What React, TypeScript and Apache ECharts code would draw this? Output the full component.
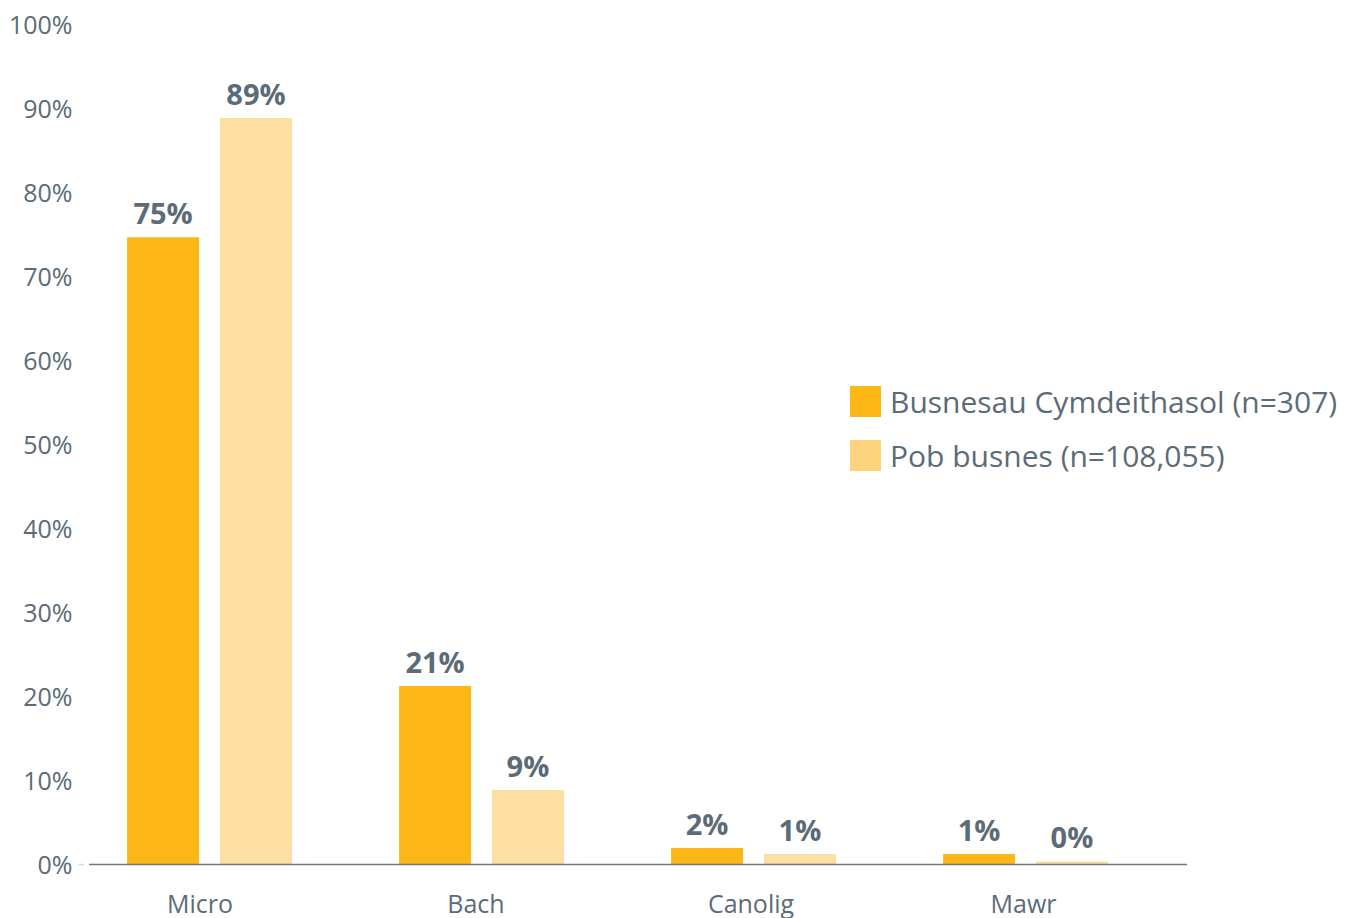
import React, { useEffect, useRef } from "react";
import * as echarts from "echarts";

const categories = ["Micro", "Bach", "Canolig", "Mawr"];
const seriesNames = ["Busnesau Cymdeithasol (n=307)", "Pob busnes (n=108,055)"];
const socialValues = [74.6, 21.2, 1.9, 1.2];
const allValues = [88.8, 8.8, 1.2, 0.3];
const yTicks = [0, 10, 20, 30, 40, 50, 60, 70, 80, 90, 100];

const FONT = "'Open Sans', 'Noto Sans', sans-serif";
const TEXT = "#5b6b77";
const C1 = "#FCB716";
const C2 = "#FDDEA3";
const C2L = "#FDD37D";

export default function App() {
  const ref = useRef<HTMLDivElement>(null);
  useEffect(() => {
    const chart = echarts.init(ref.current!, undefined, { renderer: "svg" });
    const label = {
      show: true,
      position: "top",
      distance: 10,
      fontFamily: FONT,
      fontWeight: "bold",
      fontSize: 29,
      color: TEXT,
      formatter: (p: any) => Math.round(p.value) + "%",
    };
    const shifts = [19, 11, 5, 4];
    const rich: any = {};
    shifts.forEach((s, i) => {
      rich["c" + i] = { fontFamily: FONT, fontSize: 25, color: TEXT, padding: [0, s, 0, 0] };
    });
    chart.setOption({
      animation: false,
      grid: { left: 73.5, right: 194.5, top: 24, bottom: 54 },
      legend: {
        orient: "vertical",
        left: 845,
        top: 381,
        itemWidth: 31,
        itemHeight: 31,
        itemGap: 23,
        icon: "rect",
        textStyle: { fontFamily: FONT, fontSize: 30, color: TEXT, padding: [0, 0, 0, 4] },
        data: [
          { name: seriesNames[0], itemStyle: { color: C1 } },
          { name: seriesNames[1], itemStyle: { color: C2L } },
        ],
      },
      xAxis: {
        type: "category",
        data: categories,
        axisLine: { show: false },
        axisTick: { show: false },
        axisLabel: {
          fontFamily: FONT,
          fontSize: 25,
          color: TEXT,
          margin: 26,
          formatter: (v: string, i: number) => "{c" + i + "|" + v + "}",
          rich,
        },
      },
      yAxis: {
        type: "value",
        min: 0,
        max: 100,
        interval: 10,
        splitLine: { show: false },
        axisLine: { show: false },
        axisTick: { show: false },
        axisLabel: {
          fontFamily: FONT,
          fontSize: 25,
          color: TEXT,
          margin: 1,
          formatter: (v: number) => (yTicks.includes(v) ? v + "%" : ""),
        },
      },
      graphic: [
        { type: "line", shape: { x1: 89, y1: 864.5, x2: 1187, y2: 864.5 }, style: { stroke: "#6b7a85", lineWidth: 1.5 }, z: 10 },
        { type: "line", shape: { x1: 78, y1: 864.5, x2: 84, y2: 864.5 }, style: { stroke: "#d9d9d9", lineWidth: 1.5 } },
      ],
      series: [
        {
          name: seriesNames[0],
          type: "bar",
          data: socialValues,
          barWidth: 72,
          barGap: "29%",
          itemStyle: { color: C1 },
          label,
        },
        {
          name: seriesNames[1],
          type: "bar",
          data: allValues,
          barWidth: 72,
          itemStyle: { color: C2 },
          label,
        },
      ],
    });
    return () => chart.dispose();
  }, []);
  return <div ref={ref} style={{ width: 1356, height: 918, position: "absolute", left: 0, top: 0 }} />;
}
